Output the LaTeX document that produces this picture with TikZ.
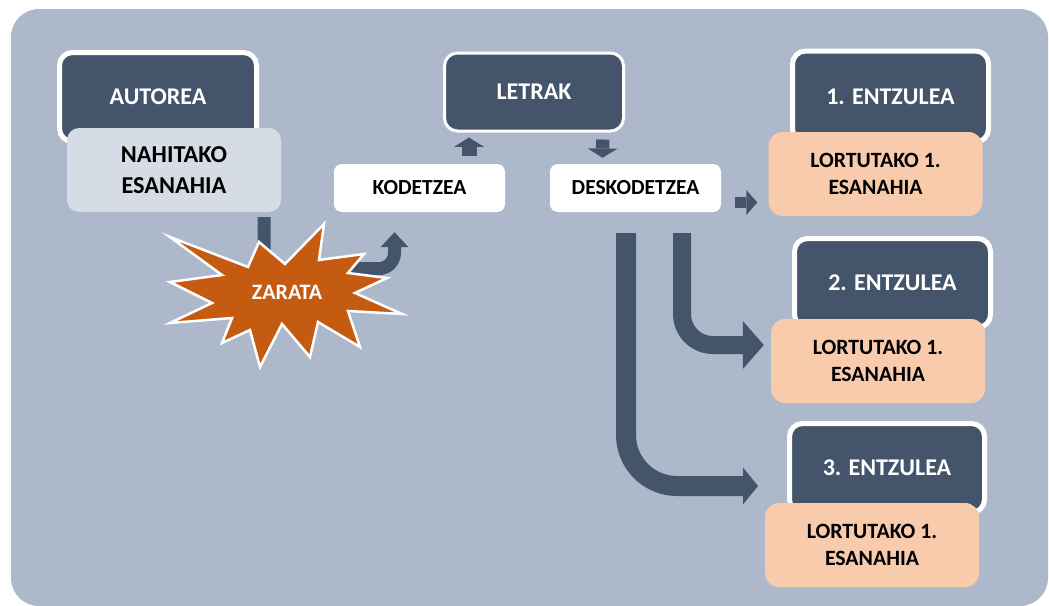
\documentclass[tikz,border=0pt]{standalone}
\usepackage{fontspec}
\setmainfont{Carlito}
\usetikzlibrary{arrows.meta,calc}
\definecolor{bgblue}{HTML}{ADB9CA}
\definecolor{slate}{HTML}{44546A}
\definecolor{paleblue}{HTML}{D6DCE5}
\definecolor{peach}{HTML}{F8CBAD}
\definecolor{rust}{HTML}{C55A11}

\tikzset{
  role/.style={rounded corners=13pt, fill=slate, draw=white, line width=5pt,
    text=white, inner sep=0pt, align=center,
    font=\fontsize{24}{29}\selectfont\bfseries},
  meaning/.style={rounded corners=14pt, fill=peach, inner sep=0pt, align=center,
    minimum width=214pt, minimum height=84pt,
    font=\fontsize{21.8}{27}\selectfont\bfseries},
  process/.style={rounded corners=8pt, fill=white, inner sep=0pt,
    minimum width=171pt, minimum height=48pt,
    font=\fontsize{21.5}{25}\selectfont\bfseries},
  flow/.style={draw=slate, line cap=butt},
}

\begin{document}
\begin{tikzpicture}[x=1pt,y=-1pt]
\useasboundingbox (0,0) rectangle (1049,605);

% panel
\fill[bgblue, rounded corners=28pt] (11,9) rectangle (1048,606);

% author side
\node[role, minimum width=197pt, minimum height=89pt] (aut) at (158,97) {AUTOREA};
\node[rounded corners=12pt, fill=paleblue, inner sep=0pt, align=center,
      minimum width=214pt, minimum height=84pt,
      font=\fontsize{24.3}{31}\selectfont\bfseries] (nah) at (174,170)
      {NAHITAKO\\ESANAHIA};

% code
\node[role, line width=3pt, minimum width=179pt, minimum height=78pt] (ltr) at (534,92) {LETRAK};
\node[process] (kod) at (419.5,188) {KODETZEA};
\node[process] (desk) at (635.5,188) {DESKODETZEA};

% listeners
\node[role, minimum width=196pt, minimum height=91pt] (ent1) at (890.5,96.5) {1. ENTZULEA};
\node[meaning] (lor1) at (875.5,174) {LORTUTAKO 1.\\ESANAHIA};
\node[role, minimum width=196pt, minimum height=89pt] (ent2) at (892.5,283) {2. ENTZULEA};
\node[meaning] (lor2) at (878,361) {LORTUTAKO 1.\\ESANAHIA};
\node[role, minimum width=195pt, minimum height=89pt] (ent3) at (887,468) {3. ENTZULEA};
\node[meaning] (lor3) at (872,545) {LORTUTAKO 1.\\ESANAHIA};

% connectors
\draw[flow, line width=15pt, -{Triangle[width=30pt,length=9.4pt,line width=0pt]}]
  ($(kod.north)+(49.5,-8)$) -- ($(ltr.south)+(-65,5)$);
\draw[flow, line width=13.3pt, -{Triangle[width=30pt,length=9.3pt,line width=0pt]}]
  ($(ltr.south)+(68.7,7)$) -- ($(desk.north)+(-33,-6)$);
\draw[flow, line width=11pt, -{Triangle[width=25pt,length=11pt,line width=0pt]}]
  ($(desk.east)+(14,14.5)$) -- ($(lor1.west)+(-11,28.5)$);
\draw[flow, line width=18pt, rounded corners=31pt,
      -{Triangle[width=48pt,length=21pt,line width=0pt]}]
  ($(desk.south)+(46.5,21)$) |- ($(lor2.west)+(-7,-16)$);
\draw[flow, line width=20pt, rounded corners=51pt,
      -{Triangle[width=37pt,length=15pt,line width=0pt]}]
  ($(desk.south)+(-9.5,21)$) |- ($(ent3.west)+(-29,18)$);
\draw[flow, line width=13pt, rounded corners=16pt,
      -{Triangle[width=28pt,length=15pt,line width=0pt]}]
  ($(nah.south)+(90,5)$) |- ($(kod.south)+(-25,56.5)$) -- ($(kod.south)+(-25,20)$);

% noise burst
\draw[fill=rust, draw=white, line width=2.5pt, line join=miter]
  (170,237) -- (248,267) -- (259,242) -- (285,264) -- (324,224) -- (319,260)
  -- (364,254) -- (348,273) -- (387,278) -- (355,293) -- (402,314) -- (348,311)
  -- (360,347) -- (318,322) -- (310,357) -- (282,324) -- (260,367) -- (250,330)
  -- (222,343) -- (232,318) -- (170,323) -- (212,303) -- (170,282) -- (222,275)
  -- cycle;
\node[text=white, inner sep=0pt, font=\fontsize{22}{26}\selectfont\bfseries] (zar) at (287,292) {ZARATA};
\end{tikzpicture}
\end{document}
